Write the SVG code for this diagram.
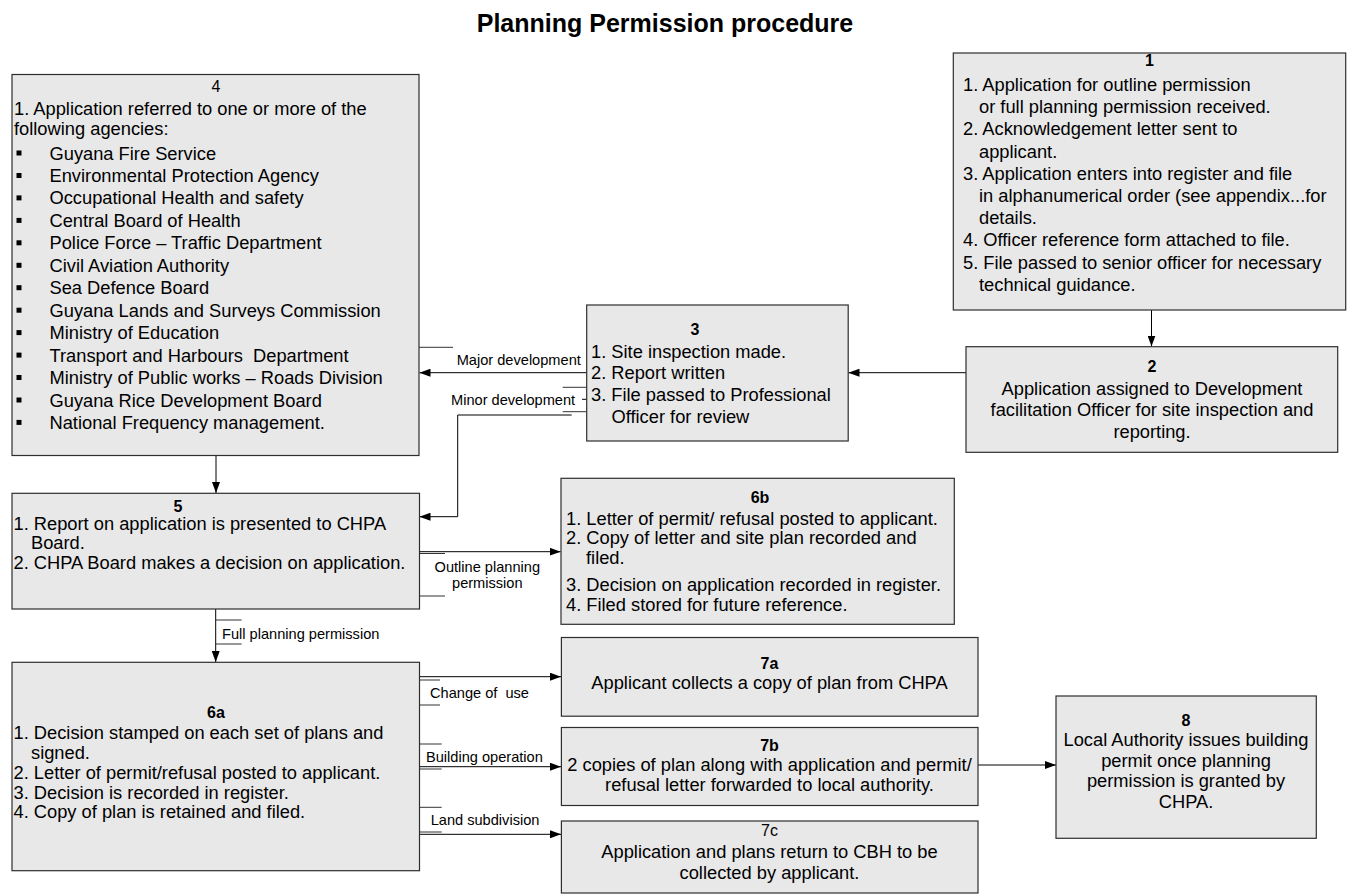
<svg xmlns="http://www.w3.org/2000/svg" width="1350" height="896" viewBox="0 0 1350 896">
<style>
text{font-family:"Liberation Sans",Arial,sans-serif;fill:#000}
.t{font-size:18.3px}
.h{font-size:16px;font-weight:bold}
.hr{font-size:16px}
.m{text-anchor:middle}
.lbl{font-size:14.6px}
.title{font-size:25px;font-weight:bold;text-anchor:middle}
.box{fill:#e8e8e8;stroke:#2e2e2e;stroke-width:1.2}
.c{stroke:#000;stroke-width:1;fill:none}
.f{stroke:#333;stroke-width:1;fill:none}
.b{fill:#000}
</style>
<defs>
<marker id="ah" markerWidth="11" markerHeight="8" refX="11" refY="4" orient="auto" markerUnits="userSpaceOnUse"><path d="M0,0 L11,4 L0,8 z" fill="#000"/></marker>
</defs>
<rect width="1350" height="896" fill="#fff"/>
<text class="title" x="665" y="32">Planning Permission procedure</text>

<g id="connectors">
<path class="c" d="M1151.5,310 V346.5" marker-end="url(#ah)"/>
<path class="c" d="M966,372.7 H848.5" marker-end="url(#ah)"/>
<path class="c" d="M586.7,372.7 H419.5" marker-end="url(#ah)"/>
<path class="c" d="M571.7,415 H457.7 V516.7 H419.5" marker-end="url(#ah)"/>
<path class="c" d="M582,399.3 H586.7"/>
<path class="c" d="M216,455.5 V493" marker-end="url(#ah)"/>
<path class="c" d="M419.5,551.7 H560.7" marker-end="url(#ah)"/>
<path class="c" d="M215.7,609 V662" marker-end="url(#ah)"/>
<path class="c" d="M419.5,676.7 H561" marker-end="url(#ah)"/>
<path class="c" d="M419.5,766.7 H561" marker-end="url(#ah)"/>
<path class="c" d="M419.5,834.3 H561" marker-end="url(#ah)"/>
<path class="c" d="M978,765 H1056" marker-end="url(#ah)"/>
<path class="f" d="M419,347.3 H453 M562.7,387.3 H586.7 M562.7,411.7 H586.7 M419,553.5 H445 M419,596 H445 M216,620 H241.6 M216,644 H241.6 M419,680 H440 M419,705 H440 M419,744 H441.7 M419,769 H441.7 M419,807.3 H441.7 M419,832 H441.7"/>
<text class="lbl" x="456.7" y="365">Major development</text>
<text class="lbl" x="451" y="404.5">Minor development</text>
<text class="lbl m" x="487.3" y="571.5">Outline planning</text>
<text class="lbl m" x="487.3" y="588">permission</text>
<text class="lbl" x="222" y="638.5">Full planning permission</text>
<text class="lbl" x="430" y="697.5" xml:space="preserve">Change of  use</text>
<text class="lbl" x="426" y="762">Building operation</text>
<text class="lbl" x="430.7" y="824.5">Land subdivision</text>
</g>

<g id="node1">
<rect class="box" x="953.3" y="53" width="392.4" height="257"/>
<text class="h m" x="1149.5" y="66">1</text>
<text class="t" x="963" y="91">1. Application for outline permission</text>
<text class="t" x="979" y="113.2">or full planning permission received.</text>
<text class="t" x="963" y="135.4">2. Acknowledgement letter sent to</text>
<text class="t" x="979" y="157.6">applicant.</text>
<text class="t" x="963" y="179.8">3. Application enters into register and file</text>
<text class="t" x="979" y="202">in alphanumerical order (see appendix...for</text>
<text class="t" x="979" y="224.2">details.</text>
<text class="t" x="963" y="246.4">4. Officer reference form attached to file.</text>
<text class="t" x="963" y="268.6">5. File passed to senior officer for necessary</text>
<text class="t" x="979" y="290.8">technical guidance.</text>
</g>

<g id="node2">
<rect class="box" x="966" y="346.7" width="371.7" height="105.6"/>
<text class="h m" x="1152" y="372.4">2</text>
<text class="t m" x="1152" y="394.5">Application assigned to Development</text>
<text class="t m" x="1152" y="415.5">facilitation Officer for site inspection and</text>
<text class="t m" x="1152" y="437.5">reporting.</text>
</g>

<g id="node3">
<rect class="box" x="586.7" y="305" width="261.5" height="136"/>
<text class="h m" x="695" y="335">3</text>
<text class="t" x="591" y="357.5">1. Site inspection made.</text>
<text class="t" x="591" y="379.3">2. Report written</text>
<text class="t" x="591" y="401">3. File passed to Professional</text>
<text class="t" x="611.5" y="422.7">Officer for review</text>
</g>

<g id="node4">
<rect class="box" x="12" y="74.5" width="407" height="381"/>
<text class="hr m" x="216" y="92">4</text>
<text class="t" x="14" y="114.5">1. Application referred to one or more of the</text>
<text class="t" x="14" y="134.5">following agencies:</text>
<g class="b">
<rect x="16.5" y="150.5" width="5" height="5"/>
<rect x="16.5" y="173" width="5" height="5"/>
<rect x="16.5" y="195.4" width="5" height="5"/>
<rect x="16.5" y="217.9" width="5" height="5"/>
<rect x="16.5" y="240.3" width="5" height="5"/>
<rect x="16.5" y="262.8" width="5" height="5"/>
<rect x="16.5" y="285.2" width="5" height="5"/>
<rect x="16.5" y="307.7" width="5" height="5"/>
<rect x="16.5" y="330.1" width="5" height="5"/>
<rect x="16.5" y="352.6" width="5" height="5"/>
<rect x="16.5" y="375" width="5" height="5"/>
<rect x="16.5" y="397.5" width="5" height="5"/>
<rect x="16.5" y="419.9" width="5" height="5"/>
</g>
<text class="t" x="49.5" y="159.5">Guyana Fire Service</text>
<text class="t" x="49.5" y="182">Environmental Protection Agency</text>
<text class="t" x="49.5" y="204.4">Occupational Health and safety</text>
<text class="t" x="49.5" y="226.9">Central Board of Health</text>
<text class="t" x="49.5" y="249.3">Police Force – Traffic Department</text>
<text class="t" x="49.5" y="271.8">Civil Aviation Authority</text>
<text class="t" x="49.5" y="294.2">Sea Defence Board</text>
<text class="t" x="49.5" y="316.7">Guyana Lands and Surveys Commission</text>
<text class="t" x="49.5" y="339.1">Ministry of Education</text>
<text class="t" x="49.5" y="361.6" xml:space="preserve">Transport and Harbours  Department</text>
<text class="t" x="49.5" y="384">Ministry of Public works – Roads Division</text>
<text class="t" x="49.5" y="406.5">Guyana Rice Development Board</text>
<text class="t" x="49.5" y="428.9">National Frequency management.</text>
</g>

<g id="node5">
<rect class="box" x="12" y="493.3" width="407.5" height="115.7"/>
<text class="h m" x="178" y="511.7">5</text>
<text class="t" x="13.5" y="529.5">1. Report on application is presented to CHPA</text>
<text class="t" x="31" y="548.7">Board.</text>
<text class="t" x="13.5" y="568.7">2. CHPA Board makes a decision on application.</text>
</g>

<g id="node6b">
<rect class="box" x="561" y="478.3" width="393.3" height="146"/>
<text class="h m" x="760" y="503">6b</text>
<text class="t" x="566" y="525.3">1. Letter of permit/ refusal posted to applicant.</text>
<text class="t" x="566" y="544.3">2. Copy of letter and site plan recorded and</text>
<text class="t" x="586" y="564.3">filed.</text>
<text class="t" x="566" y="591">3. Decision on application recorded in register.</text>
<text class="t" x="566" y="611">4. Filed stored for future reference.</text>
</g>

<g id="node6a">
<rect class="box" x="12" y="662.3" width="407.5" height="208.4"/>
<text class="h m" x="216" y="718.4">6a</text>
<text class="t" x="13.5" y="739.3">1. Decision stamped on each set of plans and</text>
<text class="t" x="31" y="758.7">signed.</text>
<text class="t" x="13.5" y="778.7">2. Letter of permit/refusal posted to applicant.</text>
<text class="t" x="13.5" y="798.7">3. Decision is recorded in register.</text>
<text class="t" x="13.5" y="817.7">4. Copy of plan is retained and filed.</text>
</g>

<g id="node7a">
<rect class="box" x="561.4" y="637.5" width="416.6" height="78.7"/>
<text class="h m" x="769.5" y="669">7a</text>
<text class="t m" x="769.5" y="689.3">Applicant collects a copy of plan from CHPA</text>
</g>

<g id="node7b">
<rect class="box" x="561.4" y="727.5" width="416.6" height="78"/>
<text class="h m" x="769.5" y="750.7">7b</text>
<text class="t m" x="769.5" y="771">2 copies of plan along with application and permit/</text>
<text class="t m" x="769.5" y="791">refusal letter forwarded to local authority.</text>
</g>

<g id="node7c">
<rect class="box" x="561.4" y="821" width="416.6" height="72"/>
<text class="hr m" x="769.5" y="835.7">7c</text>
<text class="t m" x="769.5" y="857.7">Application and plans return to CBH to be</text>
<text class="t m" x="769.5" y="879.3">collected by applicant.</text>
</g>

<g id="node8">
<rect class="box" x="1056" y="696" width="260.3" height="142.3"/>
<text class="h m" x="1186" y="725.7">8</text>
<text class="t m" x="1186" y="746">Local Authority issues building</text>
<text class="t m" x="1186" y="766.5">permit once planning</text>
<text class="t m" x="1186" y="787">permission is granted by</text>
<text class="t m" x="1186" y="807.5">CHPA.</text>
</g>
</svg>
